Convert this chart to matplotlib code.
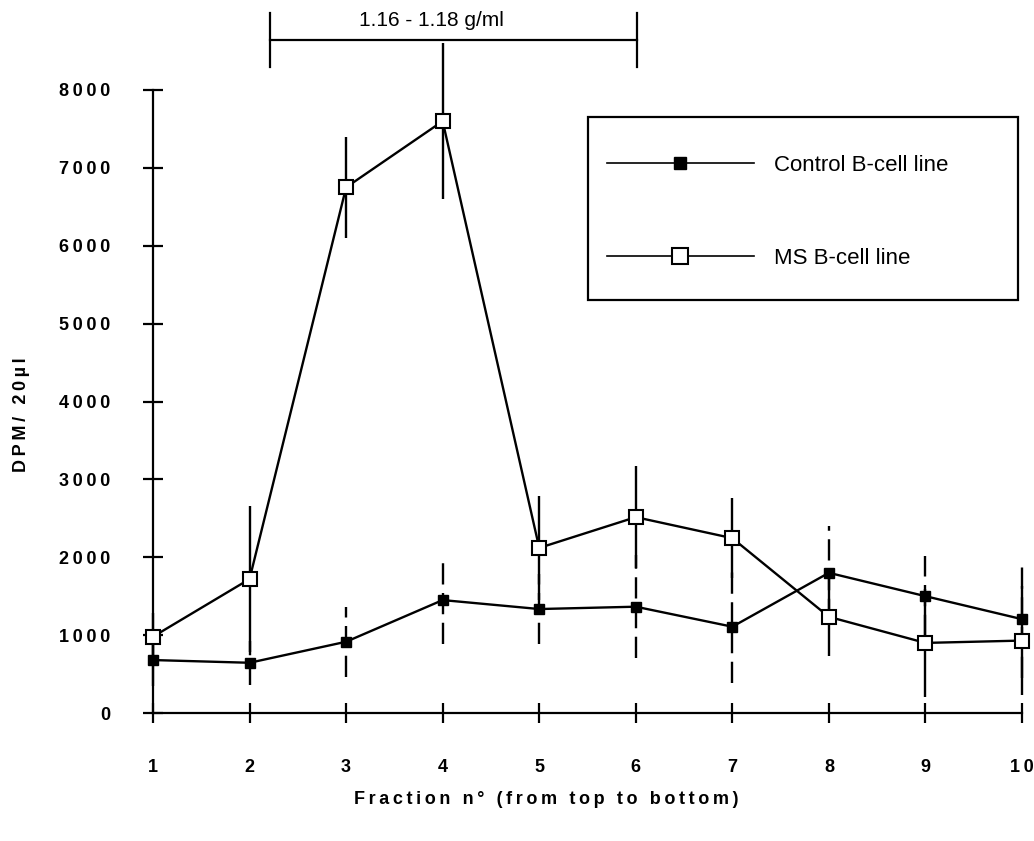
import matplotlib.pyplot as plt
from matplotlib.lines import Line2D
from matplotlib.patches import Rectangle

plt.rcParams['font.family'] = ['Liberation Sans', 'DejaVu Sans']

# fractions 1..10
fractions = [1, 2, 3, 4, 5, 6, 7, 8, 9, 10]

# Control B-cell line (filled squares, dashed error bars)
control = [680, 645, 915, 1450, 1335, 1365, 1108, 1800, 1500, 1205]
control_err = [330, 285, 450, 565, 450, 660, 720, 600, 515, 760]

# MS B-cell line (open squares, solid error bars)
ms = [980, 1720, 6750, 7600, 2120, 2515, 2245, 1235, 900, 930]
ms_err = [300, 940, 650, 1000, 665, 655, 515, 505, 690, 700]

yticks = [0, 1000, 2000, 3000, 4000, 5000, 6000, 7000, 8000]
density_label = "1.16 - 1.18 g/ml"
density_range = (2.21, 6.01)


def spaced(s):
    # the original typesetting is letter-spaced
    return "\u2009".join(s)


W, H = 1034, 841
fig = plt.figure(figsize=(W / 100, H / 100), dpi=100)
ax = fig.add_axes([153 / W, (H - 713) / H, (1022 - 153) / W, (713 - 90) / H])

eb = ax.errorbar(fractions, control, yerr=control_err, color='black', lw=1.7,
                 marker='s', ms=7, mfc='black', mec='black', capsize=0,
                 elinewidth=1.7, clip_on=False, zorder=3)
for c in eb[2]:
    c.set_linestyle((0, (9, 3.6)))
    c.set_clip_on(False)

eb2 = ax.errorbar(fractions, ms, yerr=ms_err, color='black', lw=1.7,
                  marker='s', ms=10.5, mfc='white', mec='black', mew=1.5,
                  capsize=0, elinewidth=1.7, clip_on=False, zorder=4)
for c in eb2[2]:
    c.set_clip_on(False)

ax.set_xlim(1, 10)
ax.set_ylim(0, 8000)
ax.set_xticks(fractions)
ax.set_xticklabels([spaced(str(f)) for f in fractions])
ax.set_yticks(yticks)
ax.set_yticklabels([spaced(str(t)) for t in yticks])
ax.spines['top'].set_visible(False)
ax.spines['right'].set_visible(False)
for s in ('left', 'bottom'):
    ax.spines[s].set_linewidth(1.6)
ax.tick_params(direction='inout', length=14, width=1.6, labelsize=13)
ax.tick_params(axis='x', pad=26)
ax.tick_params(axis='y', pad=24)
for lab in ax.get_xticklabels() + ax.get_yticklabels():
    lab.set_fontweight('bold')

fig.text(22 / W, 1 - 415 / H, spaced("DPM/ 20µl"), rotation=90, ha='center',
         va='center', fontsize=13, fontweight='bold')
fig.text(546 / W, 1 - 799 / H, spaced("Fraction n° (from top to bottom)"),
         ha='center', va='center', fontsize=13, fontweight='bold')

# density bracket above the plot
ax.plot(density_range, [8640, 8640], color='black', lw=1.6, clip_on=False)
for xb in density_range:
    ax.plot([xb, xb], [8290, 8990], color='black', lw=1.6, clip_on=False)
fig.text(431 / W, 1 - 21 / H, density_label, ha='center', va='center', fontsize=15)

# legend box
fig.patches.append(Rectangle((588 / W, 1 - 300 / H), 430 / W, 183 / H,
                             transform=fig.transFigure, fill=False,
                             edgecolor='black', lw=1.6))
handles = [
    Line2D([], [], color='black', lw=1.2, marker='s', ms=8, mfc='black', mec='black'),
    Line2D([], [], color='black', lw=1.2, marker='s', ms=12, mfc='white', mec='black', mew=1.5),
]
leg = ax.legend(handles, ["Control B-cell line", "MS B-cell line"],
                loc='upper left', bbox_to_anchor=(588 / W, 1 - 136 / H),
                bbox_transform=fig.transFigure, fontsize=16, handlelength=6.6,
                labelspacing=3.25, borderpad=0.85, handletextpad=0.9,
                frameon=False, borderaxespad=0)

fig.savefig("out.png", dpi=100)
